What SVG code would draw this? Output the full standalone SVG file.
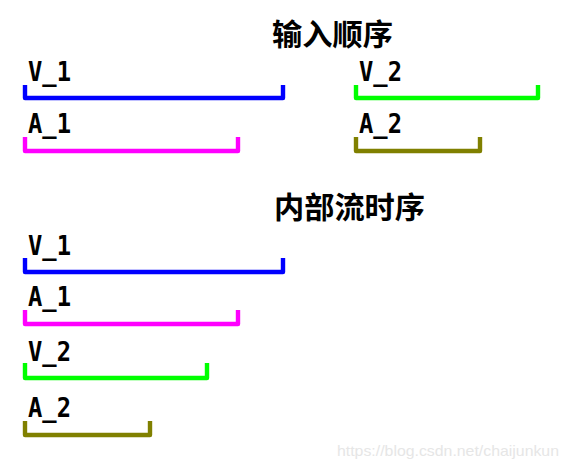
<svg xmlns="http://www.w3.org/2000/svg" width="567" height="467" viewBox="0 0 567 467">
<style>
.t{font-family:"Noto Sans CJK SC","Noto Sans",sans-serif;font-weight:bold;font-size:30px;fill:#000}
.l{font-family:"DejaVu Sans Mono","Liberation Mono",monospace;font-weight:bold;font-size:27px;fill:#000}
.b{fill:none;stroke-width:4.4;stroke-linejoin:round}
.v1{stroke:#0000ff}.a1{stroke:#ff00ff}.v2{stroke:#00ff00}.a2{stroke:#808000}
.w{font-family:"Liberation Sans",Arial,sans-serif;font-size:15px;fill:#e6e6e6}
</style>
<rect width="567" height="467" fill="#fff"/>
<g id="title-input"><text class="t" x="272" y="45" textLength="121" lengthAdjust="spacingAndGlyphs">输入顺序</text></g>
<g id="in-V1"><text class="l" x="28" y="81" textLength="43" lengthAdjust="spacingAndGlyphs">V_1</text><path class="b v1" d="M25,85V98H283V85"/></g>
<g id="in-A1"><text class="l" x="28" y="133" textLength="43" lengthAdjust="spacingAndGlyphs">A_1</text><path class="b a1" d="M25,137V151H238V137"/></g>
<g id="in-V2"><text class="l" x="359" y="81" textLength="43" lengthAdjust="spacingAndGlyphs">V_2</text><path class="b v2" d="M356,85V98H538V85"/></g>
<g id="in-A2"><text class="l" x="359" y="133" textLength="43" lengthAdjust="spacingAndGlyphs">A_2</text><path class="b a2" d="M356,137V151H480V137"/></g>
<g id="title-internal"><text class="t" x="274" y="218" textLength="151" lengthAdjust="spacingAndGlyphs">内部流时序</text></g>
<g id="out-V1"><text class="l" x="28" y="255" textLength="43" lengthAdjust="spacingAndGlyphs">V_1</text><path class="b v1" d="M25,258V272H283V258"/></g>
<g id="out-A1"><text class="l" x="28" y="306" textLength="43" lengthAdjust="spacingAndGlyphs">A_1</text><path class="b a1" d="M25,310V324H238V310"/></g>
<g id="out-V2"><text class="l" x="28" y="361" textLength="43" lengthAdjust="spacingAndGlyphs">V_2</text><path class="b v2" d="M25,363V378H207V363"/></g>
<g id="out-A2"><text class="l" x="28" y="417" textLength="43" lengthAdjust="spacingAndGlyphs">A_2</text><path class="b a2" d="M25,421V435H150V421"/></g>
<g id="connectors"/>
<text class="w" x="337" y="456" textLength="222" lengthAdjust="spacingAndGlyphs">https://blog.csdn.net/chaijunkun</text>
</svg>
